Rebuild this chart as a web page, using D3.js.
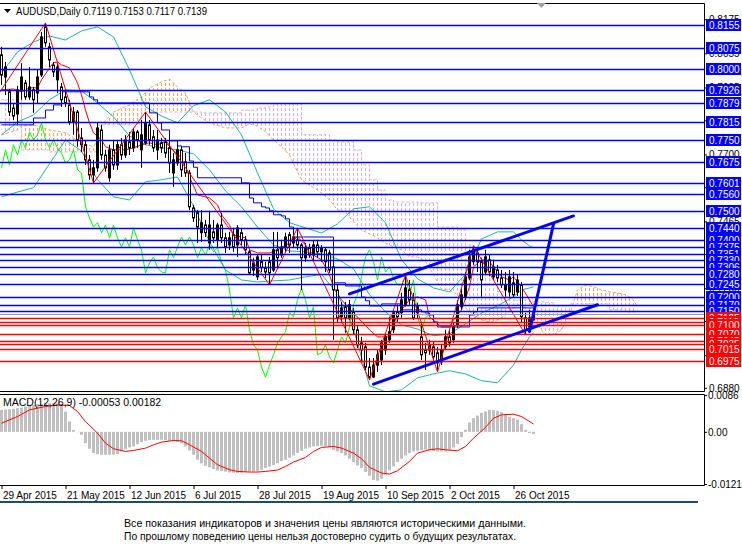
<!DOCTYPE html>
<html>
<head>
<meta charset="utf-8">
<script src="https://cdn.jsdelivr.net/npm/d3@7"></script>
<style>
  body { margin: 0; background: #fff; }
  svg { display: block; font-family: "Liberation Sans", Arial, sans-serif; }
</style>
</head>
<body>
<div id="chart"></div>
<script>
// AUDUSD daily bars, 29 Apr 2015 .. 2 Nov 2015 (bar 0 = 29 Apr)
const opens = [.8050,.7972,.7920,.7863,.7842,.7927,.7951,.7902,.7927,.7916,.7979,.8148,.8078,.8014,.7962,.7937,.7902,.7874,.7814,.7849,
  .7758,.7734,.7681,.7628,.7653,.7786,.7698,.7618,.7716,.7663,.7734,.7698,.7744,.7723,.7779,.7716,.7741,.7804,.7762,.7716,
  .7741,.7744,.7723,.7635,.7670,.7716,.7674,.7635,.7512,.7495,.7425,.7452,.7389,.7428,.7400,.7452,.7407,.7382,.7418,.7382,
  .7425,.7400,.7358,.7294,.7270,.7323,.7302,.7323,.7294,.7365,.7347,.7375,.7418,.7389,.7400,.7382,.7337,.7372,.7347,.7382,
  .7358,.7365,.7354,.7305,.7224,.7130,.7165,.7126,.7147,.7084,.7038,.7024,.6953,.6918,.6960,.6978,.7013,.7049,.7084,.7147,
  .7144,.7172,.7224,.7189,.7144,.7059,.7013,.7013,.7024,.7003,.6971,.7024,.7059,.7049,.7101,.7165,.7200,.7266,.7323,.7354,
  .7323,.7287,.7330,.7270,.7294,.7266,.7224,.7217,.7249,.7217,.7242,.7126,.7094,.7119];
const highs = [.8078,.8025,.7930,.7881,.7941,.8021,.7962,.8007,.7937,.7997,.8130,.8162,.8092,.8025,.8021,.7951,.7927,.7892,.7867,.7856,
  .7793,.7751,.7698,.7681,.7814,.7804,.7716,.7734,.7751,.7751,.7758,.7769,.7779,.7793,.7786,.7821,.7849,.7821,.7786,.7786,
  .7758,.7758,.7762,.7705,.7734,.7727,.7705,.7646,.7523,.7505,.7505,.7470,.7498,.7470,.7460,.7495,.7425,.7428,.7442,.7452,
  .7442,.7414,.7365,.7337,.7347,.7347,.7323,.7340,.7428,.7428,.7400,.7425,.7428,.7435,.7442,.7389,.7389,.7386,.7400,.7400,
  .7382,.7375,.7365,.7312,.7242,.7182,.7182,.7189,.7161,.7101,.7059,.7038,.6985,.6985,.7013,.7049,.7073,.7130,.7154,.7172,
  .7214,.7277,.7259,.7214,.7179,.7112,.7038,.7049,.7042,.7024,.7031,.7084,.7084,.7108,.7189,.7231,.7287,.7365,.7379,.7372,
  .7337,.7365,.7347,.7330,.7312,.7294,.7287,.7294,.7287,.7277,.7252,.7144,.7154,.7153];
const lows = [.7944,.7909,.7835,.7821,.7806,.7892,.7892,.7892,.7846,.7881,.7972,.8078,.8007,.7972,.7916,.7867,.7867,.7804,.7769,.7727,
  .7709,.7663,.7611,.7600,.7639,.7681,.7639,.7604,.7646,.7646,.7681,.7688,.7698,.7709,.7723,.7653,.7734,.7734,.7709,.7681,
  .7705,.7688,.7635,.7586,.7660,.7621,.7621,.7505,.7463,.7389,.7393,.7410,.7365,.7389,.7375,.7389,.7354,.7365,.7358,.7340,
  .7382,.7347,.7277,.7273,.7259,.7287,.7266,.7242,.7287,.7298,.7337,.7358,.7354,.7372,.7365,.7224,.7323,.7337,.7330,.7337,
  .7323,.7287,.7284,.7049,.7112,.7112,.7074,.7119,.7066,.7020,.6971,.6943,.6908,.6915,.6936,.6960,.6996,.7038,.7073,.7112,
  .7126,.7165,.7172,.7119,.7126,.6978,.6943,.6996,.6971,.6936,.6960,.7013,.7024,.7038,.7091,.7154,.7189,.7259,.7312,.7287,
  .7200,.7277,.7273,.7259,.7252,.7231,.7200,.7200,.7196,.7203,.7108,.7066,.7084,.7117];
const closes = [.7979,.8007,.7849,.7835,.7927,.7972,.7902,.7937,.7892,.7972,.8113,.8092,.8032,.7990,.8007,.7892,.7881,.7814,.7849,.7751,
  .7734,.7681,.7628,.7653,.7793,.7698,.7653,.7716,.7663,.7734,.7698,.7751,.7723,.7779,.7751,.7769,.7811,.7751,.7723,.7751,
  .7723,.7705,.7670,.7681,.7716,.7646,.7635,.7516,.7477,.7445,.7460,.7425,.7452,.7407,.7452,.7407,.7375,.7407,.7375,.7442,
  .7400,.7365,.7284,.7319,.7340,.7302,.7287,.7284,.7365,.7337,.7375,.7410,.7382,.7410,.7382,.7337,.7372,.7347,.7382,.7358,
  .7372,.7323,.7294,.7224,.7126,.7161,.7126,.7172,.7084,.7031,.7013,.6953,.6918,.6960,.6996,.7038,.7059,.7077,.7144,.7130,
  .7189,.7231,.7189,.7126,.7165,.6996,.7003,.7031,.6989,.6968,.7013,.7059,.7038,.7094,.7172,.7207,.7270,.7340,.7365,.7323,
  .7259,.7340,.7287,.7305,.7266,.7242,.7242,.7270,.7207,.7259,.7130,.7084,.7126,.7139];

// Bollinger bands (20), read at sampled bars
const bbBars = [0,4,8,12,16,20,24,28,32,36,40,44,48,52,56,60,64,68,72,76,80,84,88,92,96,100,104,108,112,116,120,124,128,130,132,133];
const bbMid = [.7769,.7814,.7839,.7892,.7927,.7923,.7881,.7832,.7765,.7734,.7723,.7716,.7702,.7646,.7572,.7516,.7445,.7382,.7361,.7358,
  .7351,.7333,.7298,.7207,.7147,.7101,.7087,.7063,.7070,.7105,.7143,.7168,.7200,.7224,.7231,.7235];
const bbUp = [.7986,.8060,.8095,.8116,.8102,.8134,.8148,.8113,.7997,.7867,.7835,.7811,.7871,.7892,.7849,.7769,.7635,.7509,.7460,.7442,
  .7424,.7456,.7509,.7516,.7460,.7330,.7263,.7231,.7217,.7280,.7403,.7428,.7428,.7400,.7379,.7372];
const bbLow = [.7551,.7568,.7583,.7667,.7751,.7712,.7611,.7551,.7540,.7604,.7611,.7621,.7519,.7393,.7294,.7259,.7252,.7256,.7259,.7270,
  .7279,.7210,.7087,.6887,.6866,.6873,.6915,.6929,.6940,.6929,.6905,.6898,.6960,.7013,.7059,.7073];

// Ichimoku lines
const tenkanBars = [0,3,5,7,9,10,12,13,14,15,17,18,19,20,21,22,23,25,26,28,31,33,35,37,39,41,42,45,47,49,52,54,55,57,58,61,62,64,67,69,
  72,74,76,77,80,82,83,85,88,92,94,97,98,100,102,104,106,107,110,112,113,115,117,118,120,122,123,125,127,128,130,132,133];
const tenkan = [.7927,.7930,.7920,.7934,.7934,.7962,.8004,.8022,.8025,.8015,.8004,.7979,.7951,.7909,.7856,.7811,.7776,.7751,.7727,.7716,
  .7716,.7723,.7734,.7741,.7734,.7744,.7727,.7688,.7621,.7558,.7547,.7523,.7488,.7452,.7417,.7407,.7365,.7354,.7354,.7365,
  .7389,.7410,.7382,.7354,.7330,.7277,.7235,.7189,.7143,.7084,.7059,.7059,.7108,.7154,.7189,.7200,.7189,.7129,.7094,.7094,
  .7119,.7154,.7235,.7305,.7330,.7323,.7305,.7270,.7259,.7270,.7235,.7189,.7164];
const kijunBars = [0,8,11,13,15,22,23,24,37,39,40,42,44,45,47,48,49,60,62,63,65,66,67,68,70,71,72,73,83,86,90,91,92,95,100,105,106,107,108,109,
  117,118,119,133];
const kijun = [.7804,.7828,.7856,.7874,.7920,.7902,.7892,.7881,.7846,.7811,.7786,.7748,.7730,.7727,.7677,.7655,.7618,.7600,.7547,.7530,
  .7516,.7512,.7502,.7488,.7484,.7474,.7445,.7410,.7249,.7238,.7199,.7186,.7168,.7175,.7154,.7147,.7143,.7136,.7112,.7094,
  .7136,.7147,.7161,.7161];
const cloudBars = [0,4,5,8,12,16,20,23,24,25,28,32,35,37,40,42,44,46,48,50,52,56,60,62,64,66,68,70,72,74,75,78,80,82,84,86,88,90,92,94,
  96,98,100,102,104,106,108,109,110,112,114,116,118,120,122,124,126,128,130,132,134,136,138,140,142,144,146,148,150,152,154,156,158,159];
const spanA = [.7769,.7786,.7800,.7804,.7786,.7776,.7741,.7727,.7751,.7804,.7849,.7874,.7902,.7934,.7955,.7965,.7937,.7916,.7849,.7828,
  .7811,.7793,.7793,.7807,.7800,.7779,.7751,.7727,.7698,.7639,.7611,.7583,.7565,.7540,.7505,.7498,.7463,.7435,.7421,.7407,
  .7389,.7375,.7365,.7340,.7340,.7323,.7279,.7252,.7228,.7224,.7207,.7161,.7136,.7119,.7112,.7119,.7136,.7161,.7179,.7136,
  .7101,.7066,.7066,.7084,.7136,.7224,.7242,.7235,.7224,.7217,.7214,.7207,.7189,.7164];
const spanB = [.7892,.7892,.7716,.7716,.7709,.7709,.7709,.7709,.7804,.7804,.7804,.7807,.7849,.7849,.7849,.7849,.7849,.7849,.7849,.7846,
  .7846,.7846,.7856,.7856,.7863,.7867,.7878,.7878,.7878,.7878,.7769,.7769,.7769,.7751,.7744,.7744,.7716,.7663,.7611,.7575,
  .7540,.7533,.7533,.7533,.7530,.7530,.7530,.7445,.7445,.7445,.7435,.7382,.7347,.7323,.7259,.7217,.7207,.7189,.7189,.7182,
  .7182,.7179,.7168,.7168,.7175,.7175,.7175,.7175,.7175,.7154,.7154,.7147,.7147,.7147];

// ZigZag swing points and hand-drawn trend lines [bar, price]
const zigBars = [-6,11,23,36,67,74,92,101,109,118,131];
const zigPrices = [.7800,.8162,.7600,.7849,.7242,.7442,.6908,.7277,.6936,.7379,.7066];
const channelUpper = [[87,.7210],[143,.7484]];
const channelLower = [[93,.6893],[149,.7172]];
const breakLine = [[132,.7078],[138,.7456]];

// horizontal levels
const blueLevels = [.8155,.8075,.8000,.7926,.7879,.7815,.7750,.7675,.7601,.7560,.7500,.7440,.7400,.7375,.7351,.7330,.7306,.7280,.7245,.7200,.7170,.7150];
const redLevels = [.7125,.7110,.7100,.7070,.7045,.7035,.7015,.6975];
const bidPrice = .7139;

// MACD(12,26,9)
const macdHist = [.00513,.00521,.00528,.00536,.00552,.00567,.00591,.00614,.00629,.00645,.00653,.00668,.00668,.00668,.00668,.00645,.00474,.00241,.00047,-.00008,
  -.00070,-.00264,-.00396,-.00497,-.00521,-.00536,-.00536,-.00536,-.00536,-.00521,-.00458,-.00404,-.00365,-.00342,-.00287,-.00241,-.00210,-.00194,-.00186,-.00186,
  -.00186,-.00194,-.00210,-.00225,-.00241,-.00264,-.00342,-.00435,-.00536,-.00653,-.00738,-.00793,-.00831,-.00870,-.00901,-.00917,-.00932,-.00948,-.00956,-.00963,
  -.00956,-.00940,-.00932,-.00925,-.00925,-.00886,-.00847,-.00816,-.00777,-.00730,-.00684,-.00653,-.00606,-.00552,-.00497,-.00443,-.00396,-.00365,-.00342,-.00334,
  -.00326,-.00342,-.00365,-.00420,-.00458,-.00497,-.00552,-.00629,-.00707,-.00785,-.00847,-.00940,-.01026,-.01127,-.01142,-.01096,-.01002,-.00901,-.00808,-.00707,
  -.00629,-.00552,-.00497,-.00458,-.00443,-.00427,-.00420,-.00435,-.00451,-.00458,-.00458,-.00458,-.00420,-.00365,-.00280,-.00124,.00047,.00218,.00319,.00381,
  .00443,.00474,.00513,.00505,.00490,.00458,.00412,.00350,.00319,.00287,.00179,.00047,-.00031,-.00053];
const sigBars = [0,4,7,11,14,17,19,21,24,26,28,31,33,36,38,40,43,45,47,50,52,54,57,59,62,64,66,69,71,73,76,78,80,83,85,88,90,92,95,97,
  99,102,104,107,109,111,114,116,118,121,123,125,128,130,133];
const sigVals = [.00202,.00357,.00513,.00591,.00629,.00614,.00474,.00241,-.00031,-.00264,-.00396,-.00458,-.00435,-.00381,-.00303,-.00241,-.00202,-.00210,-.00303,-.00458,
  -.00614,-.00769,-.00886,-.00925,-.00940,-.00940,-.00925,-.00894,-.00808,-.00707,-.00598,-.00458,-.00365,-.00342,-.00381,-.00497,-.00629,-.00831,-.00963,-.00987,
  -.00909,-.00692,-.00497,-.00420,-.00396,-.00420,-.00443,-.00342,-.00148,.00101,.00319,.00396,.00412,.00357,.00182];

// axes
const priceTicks = [.8175,.8055,.7935,.7820,.7700,.7585,.7465,.7350,.7230,.7115,.6995,.6880];
const macdTicks = [.0086, 0, -.01219];
const macdTickLabels = ["0.0086", "0.00", "-0.01219"];
const dateBars = [0,16,32,48,64,80,96,112,128];
const dateLabels = ["29 Apr 2015","21 May 2015","12 Jun 2015","6 Jul 2015","28 Jul 2015","19 Aug 2015","10 Sep 2015","2 Oct 2015","26 Oct 2015"];

const width = 742, height = 552;
const right = 704, mainTop = 3, mainBottom = 391, macdTop = 394, macdBottom = 485;

let x = d3.scaleLinear().domain([0, 176]).range([1.5, 705.5]);
let y = d3.scaleLinear().domain([0.6869, 0.8232]).range([mainBottom, mainTop]);
let yM = d3.scaleLinear().domain([-0.01219, 0.0086]).range([484, 395]);
const crisp = v => Math.round(v) + 0.5;

let svg = d3.select("#chart").append("svg").attr("width", width).attr("height", height);
svg.append("rect").attr("width", width).attr("height", height).attr("fill", "#fff");

let defs = svg.append("defs");
defs.append("clipPath").attr("id", "clipMain").append("rect")
    .attr("x", 0).attr("y", mainTop).attr("width", right).attr("height", mainBottom - mainTop);
defs.append("clipPath").attr("id", "clipMacd").append("rect")
    .attr("x", 0).attr("y", macdTop).attr("width", right).attr("height", macdBottom - macdTop);

let main = svg.append("g").attr("clip-path", "url(#clipMain)");

// Kumo cloud: dotted vertical strokes per bar, clipped between span A and span B
let cloud = cloudBars.map((b, k) => ({b: b, a: spanA[k], s: spanB[k]}));
const areaA = (y0) => d3.area().x(d => x(d.b)).y0(y0).y1(d => y(d.a))(cloud);
const areaB = (y0) => d3.area().curve(d3.curveStepAfter).x(d => x(d.b)).y0(y0).y1(d => y(d.s))(cloud);
defs.append("clipPath").attr("id", "aboveA").append("path").attr("d", areaA(0));
defs.append("clipPath").attr("id", "belowA").append("path").attr("d", areaA(400));
defs.append("clipPath").attr("id", "aboveB").append("path").attr("d", areaB(0));
defs.append("clipPath").attr("id", "belowB").append("path").attr("d", areaB(400));

function hatch(clipOuter, clipInner, color) {
    let g = main.append("g").attr("clip-path", `url(#${clipOuter})`)
        .append("g").attr("clip-path", `url(#${clipInner})`);
    g.selectAll("line").data(d3.range(0, 160)).join("line")
        .attr("x1", i => x(i)).attr("x2", i => x(i))
        .attr("y1", mainTop).attr("y2", mainBottom)
        .attr("stroke", color).attr("stroke-width", 1).attr("stroke-dasharray", "3,2");
}
hatch("aboveB", "belowA", "#F4A460");
hatch("aboveA", "belowB", "#D8B0D8");

main.append("path")
    .attr("d", d3.line().x(d => x(d.b)).y(d => y(d.a))(cloud))
    .attr("fill", "none").attr("stroke", "#F4A460").attr("stroke-dasharray", "3,2");
main.append("path")
    .attr("d", d3.line().curve(d3.curveStepAfter).x(d => x(d.b)).y(d => y(d.s))(cloud))
    .attr("fill", "none").attr("stroke", "#D8B0D8").attr("stroke-dasharray", "3,2");

// Bollinger bands
[bbUp, bbMid, bbLow].forEach(vals => {
    main.append("path")
        .attr("d", d3.line().x((d, k) => x(bbBars[k])).y(d => y(d))(vals))
        .attr("fill", "none").attr("stroke", "#20B2AA").attr("stroke-width", 1);
});

// chikou = close shifted back 26 bars
main.append("path")
    .attr("d", d3.line().x((d, k) => x(k)).y(d => y(d))(closes.slice(26)))
    .attr("fill", "none").attr("stroke", "#00FF00").attr("stroke-width", 1);
main.append("path")
    .attr("d", d3.line().x((d, k) => x(tenkanBars[k])).y(d => y(d))(tenkan))
    .attr("fill", "none").attr("stroke", "#FF0000").attr("stroke-width", 1);
main.append("path")
    .attr("d", d3.line().curve(d3.curveStepAfter).x((d, k) => x(kijunBars[k])).y(d => y(d))(kijun))
    .attr("fill", "none").attr("stroke", "#0000FF").attr("stroke-width", 1);

// candles: black = up, white = down
let bars = main.selectAll(".bar").data(d3.range(closes.length)).join("g").attr("class", "bar");
bars.append("line")
    .attr("x1", i => x(i)).attr("x2", i => x(i))
    .attr("y1", i => y(highs[i])).attr("y2", i => y(lows[i]))
    .attr("stroke", "#000").attr("stroke-width", 1);
bars.append("rect")
    .attr("x", i => x(i) - 1)
    .attr("width", 2)
    .attr("y", i => y(Math.max(opens[i], closes[i])))
    .attr("height", i => Math.max(0.5, Math.abs(y(opens[i]) - y(closes[i]))))
    .attr("fill", i => closes[i] >= opens[i] ? "#000" : "#fff")
    .attr("stroke", "#000").attr("stroke-width", 1);

// zigzag
main.append("path")
    .attr("d", d3.line().x((d, k) => x(zigBars[k])).y(d => y(d))(zigPrices))
    .attr("fill", "none").attr("stroke", "#FF0000").attr("stroke-width", 1);

// horizontal levels
main.selectAll(".lvB").data(blueLevels).join("line")
    .attr("x1", 0).attr("x2", right)
    .attr("y1", d => crisp(y(d))).attr("y2", d => crisp(y(d)))
    .attr("stroke", "#0000FF").attr("stroke-width", 1.4);
main.selectAll(".lvR").data(redLevels).join("line")
    .attr("x1", 0).attr("x2", right)
    .attr("y1", d => crisp(y(d))).attr("y2", d => crisp(y(d)))
    .attr("stroke", "#FF0000").attr("stroke-width", 1.4);
main.append("line")
    .attr("x1", 0).attr("x2", right)
    .attr("y1", crisp(y(bidPrice))).attr("y2", crisp(y(bidPrice)))
    .attr("stroke", "#9a9a9a").attr("stroke-width", 1);

// trend channel
[channelUpper, channelLower, breakLine].forEach(seg => {
    main.append("line")
        .attr("x1", x(seg[0][0])).attr("y1", y(seg[0][1]))
        .attr("x2", x(seg[1][0])).attr("y2", y(seg[1][1]))
        .attr("stroke", "#0000FF").attr("stroke-width", 3).attr("stroke-linecap", "round");
});

// MACD panel
let macd = svg.append("g").attr("clip-path", "url(#clipMacd)");
macd.selectAll("rect").data(macdHist).join("rect")
    .attr("x", (d, i) => x(i) - 1.5)
    .attr("width", 3)
    .attr("y", d => Math.min(yM(d), yM(0)))
    .attr("height", d => Math.abs(yM(d) - yM(0)))
    .attr("fill", "#C0C0C0");
macd.append("path")
    .attr("d", d3.line().x((d, k) => x(sigBars[k])).y(d => yM(d))(sigVals))
    .attr("fill", "none").attr("stroke", "#FF0000").attr("stroke-width", 1);

// frames
svg.append("path")
    .attr("d", `M0,${mainTop + 0.5}H${right + 0.5}V${mainBottom + 0.5}H0`)
    .attr("fill", "none").attr("stroke", "#000");
svg.append("path")
    .attr("d", `M0,${macdTop + 0.5}H${right + 0.5}V${macdBottom + 0.5}H0`)
    .attr("fill", "none").attr("stroke", "#000");
svg.append("path").attr("d", "M537,3L546,3L541.5,8Z").attr("fill", "#a0a0a0");

// price axis
let priceAxis = svg.append("g").attr("transform", `translate(${right},0)`)
    .call(d3.axisRight(y).tickValues(priceTicks).tickFormat(d3.format(".4f")).tickSize(3).tickPadding(2));
priceAxis.select(".domain").remove();
priceAxis.selectAll("text").attr("font-size", 10).attr("font-family", "Liberation Sans, Arial, sans-serif").attr("fill", "#000");

// level tags on the price scale
let tags = blueLevels.map(d => ({v: d, c: "#0000FF"})).concat(redLevels.map(d => ({v: d, c: "#FF0000"})));
let tagG = svg.selectAll(".tag").data(tags).join("g").attr("class", "tag")
    .attr("transform", d => `translate(706,${Math.round(y(d.v))})`);
tagG.append("rect").attr("x", 0).attr("y", -6).attr("width", 35).attr("height", 12).attr("fill", d => d.c);
tagG.append("text").attr("x", 3).attr("y", 4).attr("font-size", 10).attr("fill", "#fff")
    .text(d => d3.format(".4f")(d.v));

// MACD axis
let macdAxis = svg.append("g").attr("transform", `translate(${right},0)`)
    .call(d3.axisRight(yM).tickValues(macdTicks).tickFormat((d, i) => macdTickLabels[i]).tickSize(3).tickPadding(1));
macdAxis.select(".domain").remove();
macdAxis.selectAll("text").attr("font-size", 10).attr("font-family", "Liberation Sans, Arial, sans-serif").attr("fill", "#000");

// time axis
let timeAxis = svg.append("g").attr("transform", `translate(0,${macdBottom})`)
    .call(d3.axisBottom(x).tickValues(dateBars).tickFormat((d, i) => dateLabels[i]).tickSize(4).tickPadding(3));
timeAxis.select(".domain").remove();
timeAxis.selectAll("text").attr("text-anchor", "start").attr("dx", "1")
    .attr("font-size", 10).attr("font-family", "Liberation Sans, Arial, sans-serif").attr("fill", "#000");

// titles
svg.append("path").attr("d", "M4,9L11,9L7.5,13Z").attr("fill", "#000");
svg.append("text").attr("x", 16).attr("y", 15).attr("font-size", 11).attr("fill", "#000")
    .attr("textLength", 191).attr("lengthAdjust", "spacingAndGlyphs")
    .text("AUDUSD,Daily  0.7119 0.7153 0.7117 0.7139");
svg.append("text").attr("x", 3).attr("y", 406).attr("font-size", 10.5).attr("fill", "#000")
    .text("MACD(12,26,9) -0.00053 0.00182");

// footer
svg.append("rect").attr("x", 0).attr("y", 501).attr("width", 698).attr("height", 2).attr("fill", "#1d4e63");
svg.append("text").attr("x", 124).attr("y", 527).attr("font-size", 11).attr("fill", "#000")
    .attr("textLength", 402).attr("lengthAdjust", "spacingAndGlyphs")
    .text("Все показания индикаторов и значения цены являются историческими данными.");
svg.append("text").attr("x", 124).attr("y", 540).attr("font-size", 11).attr("fill", "#000")
    .attr("textLength", 392).attr("lengthAdjust", "spacingAndGlyphs")
    .text("По прошлому поведению цены нельзя достоверно судить о будущих результатах.");
</script>
</body>
</html>
